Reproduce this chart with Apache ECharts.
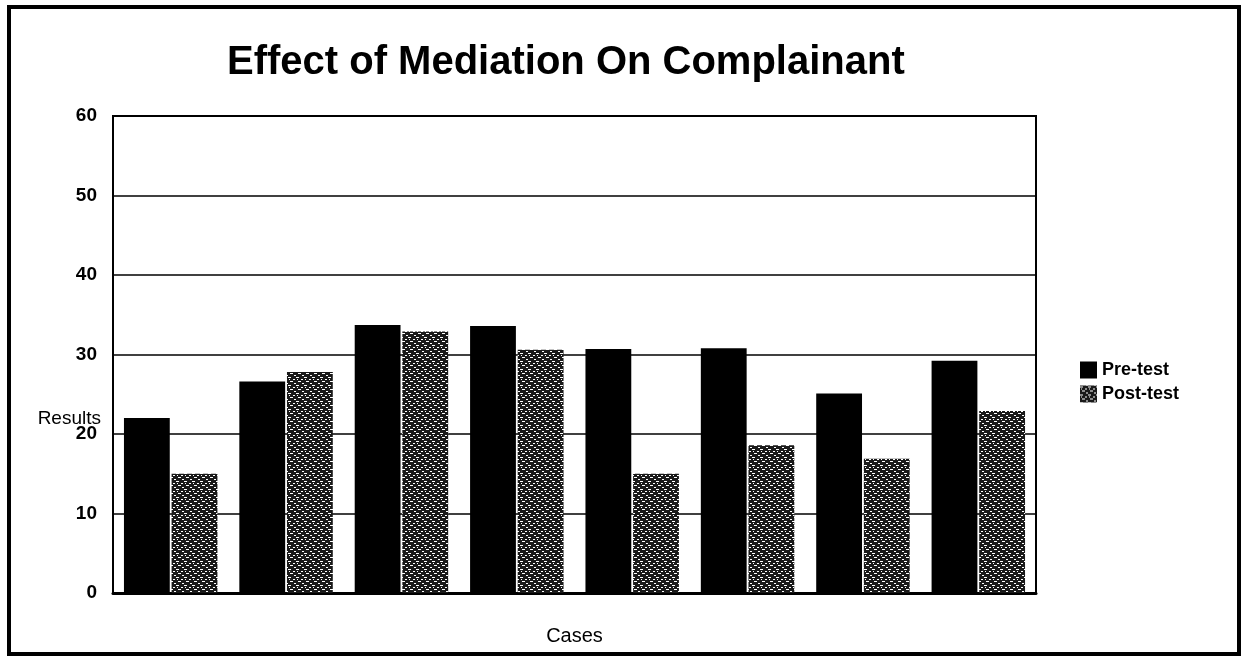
<!DOCTYPE html>
<html>
<head>
<meta charset="utf-8">
<script src="https://cdn.jsdelivr.net/npm/echarts@6/dist/echarts.min.js"></script>
<style>
  html, body { margin: 0; padding: 0; background: #fff; }
  #chart { width: 1245px; height: 660px; }
</style>
</head>
<body>
<div id="chart"></div>
<script>
// data
const cases = ['1', '2', '3', '4', '5', '6', '7', '8']
const preTest = [22, 26.6, 33.7, 33.6, 30.7, 30.8, 25.1, 29.2]
const postTest = [15, 27.8, 32.9, 30.6, 15, 18.6, 16.9, 22.9]
const yTicks = [0, 10, 20, 30, 40, 50, 60]

// speckled fill for the post-test bars
const makePattern = () => {
  const c = document.createElement('canvas')
  c.width = 8
  c.height = 8
  const ctx = c.getContext('2d')
  ctx.fillStyle = '#1a1a1a'
  ctx.fillRect(0, 0, 8, 8)
  ctx.fillStyle = '#ffffff'
  ctx.fillRect(0, 1, 3, 1)
  ctx.fillRect(5, 3, 2, 1)
  ctx.fillRect(2, 5, 3, 1)
  ctx.fillRect(6, 7, 2, 1)
  ctx.fillRect(1, 3, 1, 1)
  return c
}
const pattern = { image: makePattern(), repeat: 'repeat' }

const myChart = echarts.init(document.getElementById('chart'))
const font = 'Liberation Sans, Arial, sans-serif'

const option = {
  animation: false,
  backgroundColor: '#fff',
  title: {
    text: 'Effect of Mediation On Complainant',
    left: 222,
    top: 38,
    textStyle: { fontFamily: font, fontSize: 40, fontWeight: 'bold', color: '#000' }
  },
  legend: {
    orient: 'vertical',
    left: 1075,
    top: 356,
    icon: 'rect',
    itemWidth: 17,
    itemHeight: 17,
    itemGap: 6,
    textStyle: { fontFamily: font, fontSize: 18, fontWeight: 'bold', color: '#000' },
    data: ['Pre-test', 'Post-test']
  },
  grid: {
    left: 113,
    right: 209,
    top: 116,
    bottom: 67,
    show: true,
    borderColor: '#000',
    borderWidth: 2
  },
  xAxis: {
    type: 'category',
    data: cases,
    name: 'Cases',
    nameLocation: 'middle',
    nameGap: 33,
    nameTextStyle: { fontFamily: font, fontSize: 20, color: '#000' },
    axisLine: { lineStyle: { color: '#000', width: 3 } },
    axisTick: { show: false },
    axisLabel: { show: false }
  },
  yAxis: {
    type: 'value',
    min: yTicks[0],
    max: yTicks[yTicks.length - 1],
    interval: 10,
    axisLine: { show: true, lineStyle: { color: '#000', width: 2 } },
    axisTick: { show: false },
    axisLabel: {
      margin: 16,
      fontFamily: font,
      fontSize: 19,
      fontWeight: 'bold',
      color: '#000'
    },
    splitLine: { lineStyle: { color: '#000', width: 1.5 } }
  },
  graphic: [
    {
      type: 'rect',
      shape: { x: 9, y: 7, width: 1230, height: 647 },
      style: { fill: 'none', stroke: '#000', lineWidth: 4 },
      silent: true
    },
    {
      type: 'text',
      right: 1245 - 101,
      top: 409,
      style: { text: 'Results', fontFamily: font, fontSize: 19, fill: '#000' }
    }
  ],
  series: [
    {
      name: 'Pre-test',
      type: 'bar',
      barGap: '4%',
      barCategoryGap: '19%',
      itemStyle: { color: '#000' },
      data: preTest
    },
    {
      name: 'Post-test',
      type: 'bar',
      itemStyle: { color: pattern },
      data: postTest
    }
  ]
}

myChart.setOption(option)
</script>
</body>
</html>
